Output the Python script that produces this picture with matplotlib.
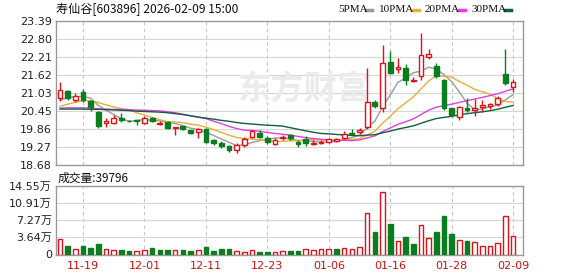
import numpy as np
import pandas as pd
import matplotlib.pyplot as plt
from matplotlib.lines import Line2D

plt.rcParams["font.family"] = ["DejaVu Sans", "Noto Sans CJK SC"]

# trading days shown on the chart
dates = ["11-14", "11-17", "11-18", "11-19", "11-20", "11-21", "11-24", "11-25", "11-26", "11-27",
         "11-28", "12-01", "12-02", "12-03", "12-04", "12-05", "12-08", "12-09", "12-10", "12-11",
         "12-12", "12-15", "12-16", "12-17", "12-18", "12-19", "12-22", "12-23", "12-24", "12-25",
         "12-26", "12-29", "12-30", "12-31", "01-05", "01-06", "01-07", "01-08", "01-09", "01-12",
         "01-13", "01-14", "01-15", "01-16", "01-19", "01-20", "01-21", "01-22", "01-23", "01-26",
         "01-27", "01-28", "01-29", "01-30", "02-02", "02-03", "02-04", "02-05", "02-06", "02-09"]

open_ = [20.87, 21.10, 20.80, 21.06, 20.77, 20.40, 20.05, 20.05, 20.21, 20.13,
         20.15, 20.05, 20.21, 20.03, 20.08, 19.88, 19.95, 19.82, 19.75, 19.85,
         19.49, 19.39, 19.29, 19.16, 19.33, 19.59, 19.72, 19.55, 19.36, 19.55,
         19.65, 19.42, 19.52, 19.38, 19.41, 19.42, 19.46, 19.55, 19.74, 19.75,
         19.92, 20.73, 20.54, 22.05, 21.83, 21.85, 21.42, 21.60, 22.21, 21.92,
         21.46, 20.54, 20.24, 20.54, 20.48, 20.58, 20.60, 20.66, 21.67, 21.22]
high = [21.39, 21.13, 21.03, 21.16, 20.80, 20.44, 20.21, 20.31, 20.37, 20.15,
        20.16, 20.28, 20.24, 20.11, 20.11, 19.92, 19.97, 19.84, 19.88, 19.88,
        19.52, 19.46, 19.33, 19.39, 19.59, 19.82, 19.82, 19.62, 19.55, 19.65,
        19.69, 19.49, 19.62, 19.49, 19.49, 19.56, 19.55, 19.78, 19.85, 19.88,
        21.85, 20.80, 22.60, 22.41, 22.18, 21.98, 21.55, 23.00, 22.47, 22.01,
        21.49, 20.56, 20.62, 20.87, 20.83, 20.80, 20.70, 20.93, 22.47, 21.49]
low = [20.77, 20.80, 20.73, 20.73, 20.44, 19.88, 19.92, 20.01, 20.08, 20.08,
       19.98, 20.01, 20.08, 19.98, 19.86, 19.65, 19.83, 19.70, 19.55, 19.40,
       19.33, 19.23, 19.10, 19.06, 19.26, 19.55, 19.57, 19.36, 19.33, 19.49,
       19.49, 19.26, 19.29, 19.33, 19.36, 19.41, 19.44, 19.54, 19.65, 19.70,
       19.86, 20.54, 20.41, 21.65, 21.69, 21.29, 21.39, 21.46, 22.14, 21.52,
       20.47, 20.24, 20.15, 20.41, 20.28, 20.41, 20.51, 20.60, 21.29, 21.06]
close = [21.13, 20.88, 20.94, 20.80, 20.57, 19.95, 20.11, 20.21, 20.15, 20.11,
         20.13, 20.21, 20.11, 20.07, 19.88, 19.91, 19.85, 19.72, 19.85, 19.42,
         19.39, 19.29, 19.16, 19.33, 19.52, 19.78, 19.59, 19.42, 19.49, 19.58,
         19.55, 19.36, 19.39, 19.40, 19.43, 19.54, 19.52, 19.69, 19.71, 19.82,
         20.75, 20.60, 22.00, 21.69, 21.87, 21.47, 21.45, 22.28, 22.32, 21.59,
         20.54, 20.31, 20.59, 20.49, 20.53, 20.64, 20.66, 20.87, 21.36, 21.38]
volume = [33120, 18960, 12710, 19030, 14820, 23240, 12680, 9920, 9870, 7810,
          7830, 9940, 14790, 10620, 10580, 9910, 9880, 8420, 9950, 16870,
          8390, 10640, 12730, 7790, 5710, 9930, 6290, 6320, 5680, 7820,
          8410, 8380, 12010, 10590, 12030, 11980, 12710, 14120, 12040, 16230,
          88050, 47920, 133600, 65410, 29530, 37280, 23190, 63340, 35210, 47080,
          82310, 44270, 31660, 28090, 27420, 17610, 18980, 24630, 82350, 39796]
prev_close = 20.90  # close of the day before the window

# MA values before enough history is visible
ma5_head = [20.80, 20.88, 20.92, 20.92]
ma10_head = [20.60, 20.67, 20.73, 20.78, 20.78, 20.72, 20.65, 20.58, 20.52]
ma20_head = [20.54, 20.55, 20.55, 20.55, 20.54, 20.52, 20.51, 20.50, 20.50, 20.49,
             20.48, 20.47, 20.46, 20.45, 20.42, 20.39, 20.34, 20.29, 20.24]
ma30_head = [20.51, 20.51, 20.51, 20.51, 20.50, 20.50, 20.49, 20.48, 20.47, 20.46,
             20.44, 20.43, 20.42, 20.41, 20.39, 20.36, 20.33, 20.29, 20.25, 20.21,
             20.18, 20.14, 20.11, 20.07, 20.04, 20.02, 20.00, 19.98, 19.97]

df = pd.DataFrame({"date": dates, "open": open_, "high": high, "low": low,
                   "close": close, "volume": volume})
ma_cols = {}
for n, head in [(5, ma5_head), (10, ma10_head), (20, ma20_head), (30, ma30_head)]:
    m = df["close"].rolling(n).mean()
    m.iloc[:len(head)] = head
    ma_cols[n] = m

ma_colors = {5: "#9a9a9a", 10: "#e3b03c", 20: "#e43ee0", 30: "#10603a"}
red = "#e0101a"
green = "#0a7d1e"
grid_c = "#d6d6d6"
frame_c = "#9a9a9a"

W, H = 578, 276
fig = plt.figure(figsize=(W / 100, H / 100), dpi=100)
ax = fig.add_axes([56 / W, 1 - 165 / H, 467 / W, 144 / H])
axv = fig.add_axes([56 / W, 1 - 254.5 / H, 467 / W, 68.5 / H])

x = np.arange(len(df))
up = df["close"] >= df["open"]
vol_up = df["close"] >= df["close"].shift(1).fillna(prev_close)

# candles
for i in x:
    c = red if up[i] else green
    ax.vlines(i, df["low"][i], df["high"][i], color=c, lw=1, zorder=3)
    o, cl = df["open"][i], df["close"][i]
    h = max(abs(cl - o), 0.006)
    ax.bar(i, h, bottom=min(o, cl), width=0.62, color="white" if up[i] else green,
           edgecolor=c, lw=1, zorder=4)

for n, m in ma_cols.items():
    ax.plot(x, m, color=ma_colors[n], lw=1, zorder=2)

# volume
axv.bar(x[vol_up], df["volume"][vol_up], width=0.6, color="white", edgecolor=red, lw=1, zorder=3)
axv.bar(x[~vol_up], df["volume"][~vol_up], width=0.6, color=green, edgecolor=green, lw=1, zorder=3)

tick_idx = [3, 11, 19, 27, 35, 43, 51, 59]
price_ticks = ["18.68", "19.27", "19.86", "20.45", "21.03", "21.62", "22.21", "22.80", "23.39"]

ax.set_xlim(-0.52, 60.29)
ax.set_ylim(18.68, 23.39)
ax.set_yticks([float(t) for t in price_ticks])
ax.set_yticklabels(price_ticks)
ax.set_xticks(tick_idx)
ax.set_xticklabels([])

axv.set_xlim(-0.52, 60.29)
axv.set_ylim(0, 145500)
axv.set_yticks([0, 36375, 72750, 109125, 145500])
axv.set_yticklabels(["0", "3.64万", "7.27万", "10.91万", "14.55万"])
axv.set_xticks(tick_idx)
axv.set_xticklabels([dates[i] for i in tick_idx], color="#cc1010")

for a in (ax, axv):
    a.grid(axis="y", color=grid_c, lw=0.8, ls="-", zorder=0)
    a.grid(axis="x", color="#c4c4c4", lw=0.8, ls=(0, (3, 3)), zorder=0)
    a.tick_params(length=0, labelsize=8, pad=3, colors="#222222")
    for s in a.spines.values():
        s.set_color(frame_c)
        s.set_linewidth(1)
axv.tick_params(axis="x", colors="#cc1010", pad=5)
axv.set_axisbelow(True)
ax.set_axisbelow(True)

# watermark
ax.text(0.53, 0.52, "东方财富", transform=ax.transAxes, ha="center", va="center",
        fontsize=24, color="#ebebeb", fontweight="bold", family=["Noto Sans CJK SC"], zorder=1)

fig.text(56 / W, 1 - 9 / H, "寿仙谷[603896] 2026-02-09 15:00", va="center", ha="left",
         fontsize=8.7, family=["Noto Sans CJK SC", "DejaVu Sans"], color="#111111")
fig.text(58 / W, 1 - 178 / H, f"成交量:{volume[-1]}", va="center", ha="left",
         fontsize=8.5, family=["Noto Sans CJK SC", "DejaVu Sans"], color="#111111")

# MA legend at the top right
leg_pos = [(338, "5PMA", 5), (379, "10PMA", 10), (425, "20PMA", 20), (472, "30PMA", 30)]
for px, lab, n in leg_pos:
    fig.text(px / W, 1 - 9 / H, lab, va="center", ha="left", fontsize=8,
             family=["Liberation Serif"], color="#111111")
leg_sw = {5: 366, 10: 413, 20: 459, 30: 505}
for n, px in leg_sw.items():
    fig.add_artist(Line2D([px / W, (px + 6) / W], [1 - 10 / H, 1 - 10 / H],
                          color=ma_colors[n], lw=2.5, transform=fig.transFigure))

fig.savefig("out.png", dpi=100)
